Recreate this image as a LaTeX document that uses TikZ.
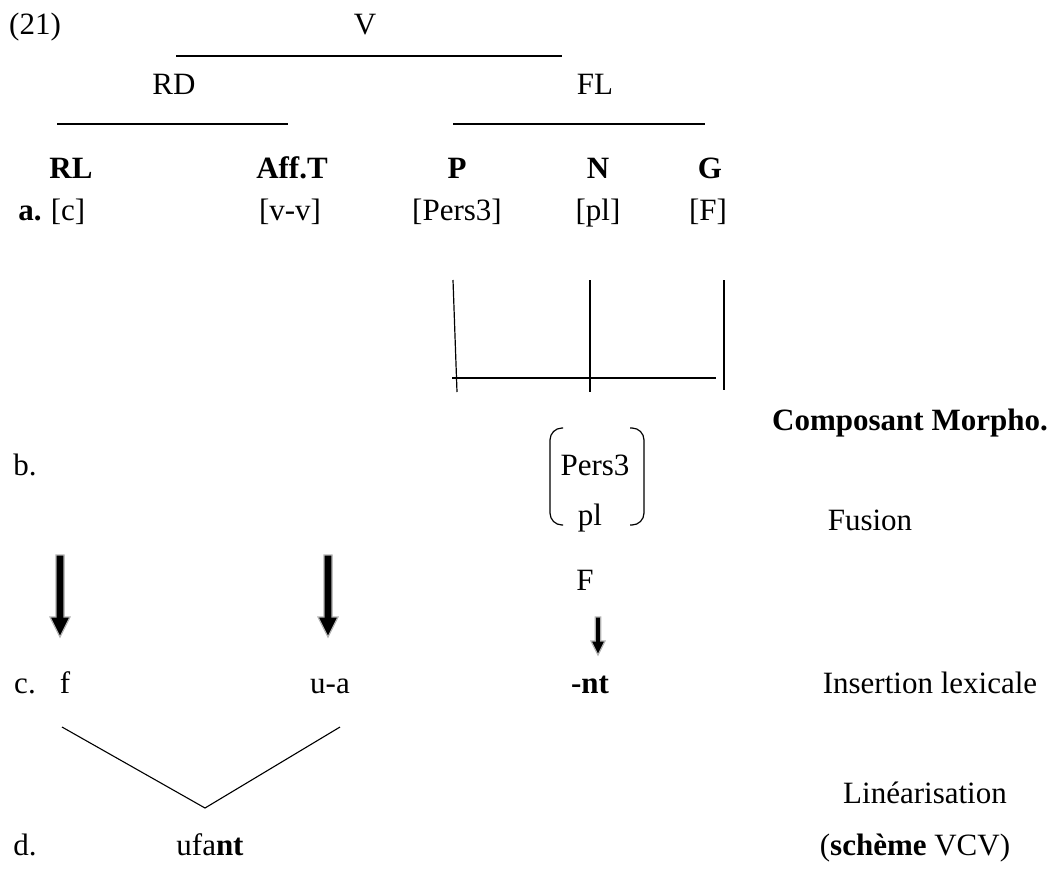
\documentclass[tikz,border=0pt]{standalone}
\usepackage{fontspec}
\setmainfont{Liberation Serif}
\usetikzlibrary{positioning}

\newcommand{\fatarrow}[4]{% x, top, bottom, half width of head
  \filldraw[black,draw=gray!60,line width=1.2pt]
    (#1-#4*0.4,#2) -- (#1+#4*0.4,#2) -- (#1+#4*0.4,#3-#4*2) -- (#1+#4,#3-#4*2)
    -- (#1,#3) -- (#1-#4,#3-#4*2) -- (#1-#4*0.4,#3-#4*2) -- cycle;}

\begin{document}
\begin{tikzpicture}[x=1pt,y=-1pt,
  every node/.style={font=\fontsize{31}{37}\selectfont,inner sep=0pt,anchor=base},
  bf/.style={font=\fontsize{31}{37}\selectfont\bfseries},
  branch/.style={line width=1.2pt}]
\useasboundingbox (0,0) rectangle (1055,868);

% tree
\node (num) at (35,34) {(21)};
\node (v) at (365,34) {V};
\node (rd) at (174,94) {RD};
\node (fl) at (595,94) {FL};
\coordinate (vl) at (176,56); \coordinate (vr) at (562,56);
\coordinate (rdl) at (57,124); \coordinate (rdr) at (288,124);
\coordinate (fll) at (453,124); \coordinate (flr) at (705,124);
\draw[branch] (vl) -- (vr);
\draw[branch] (rdl) -- (rdr);
\draw[branch] (fll) -- (flr);

% row a
\node[bf] (rl) at (71,178) {RL};
\node[bf] (afft) at (292,178) {Aff.T};
\node[bf] (p) at (457,178) {P};
\node[bf] (n) at (598,178) {N};
\node[bf] (g) at (710,178) {G};
\node[bf] (a) at (30,220) {a.};
\node (c) at (68,220) {[c]};
\node (vv) at (290,220) {[v-v]};
\node (pers) at (457,220) {[Pers3]};
\node (pl) at (598,220) {[pl]};
\node (f) at (708,220) {[F]};

% fusion box
\coordinate (p1) at (453,280); \coordinate (p2) at (457,392);
\coordinate (n1) at (590,280); \coordinate (n2) at (590,392);
\coordinate (g1) at (724,280); \coordinate (g2) at (724,390);
\coordinate (hl) at (452,378); \coordinate (hr) at (716,378);
\draw[branch] (p1) -- (p2);
\draw[branch] (n1) -- (n2);
\draw[branch] (g1) -- (g2);
\draw[branch] (hl) -- (hr);
\node[bf,anchor=base east] (comp) at (1048,430) {Composant Morpho.};

% row b
\node (b) at (25,475) {b.};
\node (bpers) at (595,475) {Pers3};
\node (bpl) at (590,525) {pl};
\node (fus) at (870,530) {Fusion};
\node (bF) at (585,590) {F};
\draw[branch,rounded corners=12pt] (563,428) -- (550,428) -- (550,525) -- (563,525);
\draw[branch,rounded corners=12pt] (630,428) -- (644,428) -- (644,525) -- (630,525);

% arrows
\fatarrow{60}{555}{637}{10}
\fatarrow{328}{555}{637}{10}
\fatarrow{598}{617}{655}{7}

% row c
\node (cc) at (25,693) {c.};
\node (cf) at (65,693) {f};
\node (cua) at (330,693) {u-a};
\node[bf] (cnt) at (590,693) {-nt};
\node (ins) at (930,693) {Insertion lexicale};

% linearisation
\coordinate (ll) at (62,727); \coordinate (lb) at (205,808); \coordinate (lr) at (340,727);
\draw[line width=1.1pt] (ll) -- (lb) -- (lr);
\node (lin) at (925,803) {Linéarisation};

% row d
\node (d) at (25,855) {d.};
\node (ufant) at (210,855) {ufa\textbf{nt}};
\node (sch) at (915,855) {(\textbf{schème} VCV)};
\end{tikzpicture}
\end{document}
